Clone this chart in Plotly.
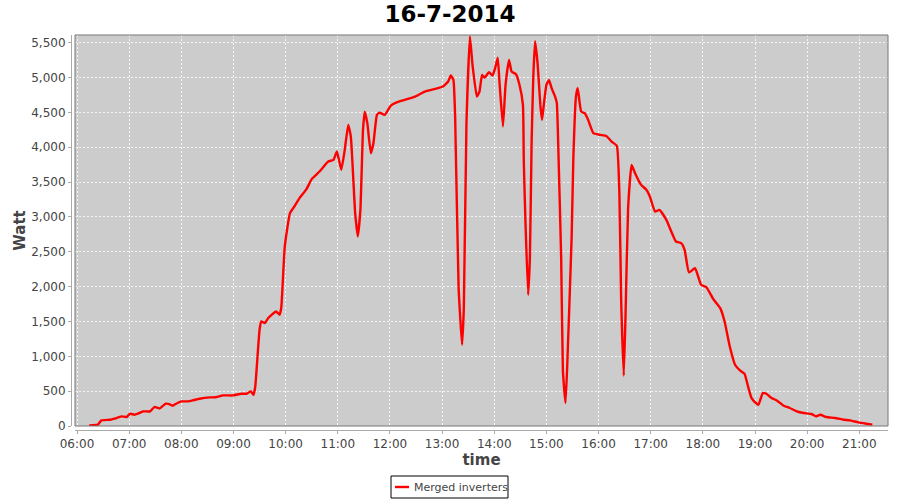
import plotly.graph_objects as go

# samples (time of day, watt)
times = [
    "06:14", "06:24", "06:28", "06:38", "06:43", "06:51", "06:57", "07:01", "07:06", "07:10",
    "07:16", "07:24", "07:29", "07:35", "07:42", "07:46", "07:50", "07:54", "08:00", "08:08",
    "08:13", "08:21", "08:33", "08:40", "08:48", "08:59", "09:09", "09:15", "09:20", "09:23",
    "09:25", "09:30", "09:32", "09:36", "09:40", "09:49", "09:53", "09:55", "09:59", "10:05",
    "10:10", "10:16", "10:24", "10:30", "10:39", "10:49", "10:55", "10:59", "11:04", "11:08",
    "11:12", "11:15", "11:20", "11:23", "11:26", "11:29", "11:31", "11:34", "11:38", "11:41",
    "11:45", "11:48", "11:54", "12:01", "12:07", "12:17", "12:29", "12:40", "12:52", "13:01",
    "13:07", "13:10", "13:13", "13:15", "13:19", "13:23", "13:25", "13:28", "13:32", "13:35",
    "13:40", "13:43", "13:46", "13:49", "13:54", "13:58", "14:01", "14:04", "14:06", "14:10",
    "14:13", "14:17", "14:20", "14:25", "14:29", "14:33", "14:34", "14:36", "14:39", "14:41",
    "14:43", "14:45", "14:47", "14:50", "14:53", "14:55", "14:57", "15:00", "15:03", "15:06",
    "15:10", "15:12", "15:14", "15:17", "15:19", "15:22", "15:24", "15:29", "15:31", "15:34",
    "15:36", "15:40", "15:44", "15:48", "15:54", "16:02", "16:09", "16:15", "16:21", "16:24",
    "16:26", "16:29", "16:31", "16:34", "16:38", "16:42", "16:49", "16:55", "16:59", "17:05",
    "17:10", "17:18", "17:29", "17:35", "17:39", "17:44", "17:51", "17:58", "18:04", "18:12",
    "18:20", "18:25", "18:31", "18:37", "18:43", "18:48", "18:52", "18:56", "19:02", "19:04",
    "19:09", "19:13", "19:19", "19:25", "19:33", "19:40", "19:48", "19:56", "20:05", "20:10",
    "20:15", "20:22", "20:32", "20:42", "20:49", "20:59", "21:08", "21:15",
]
watt = [
    9, 19, 80, 90, 105, 138, 129, 176, 162, 176,
    210, 210, 272, 252, 320, 315, 291, 320, 353, 353,
    367, 391, 410, 413, 439, 439, 463, 463, 496, 449,
    559, 1381, 1500, 1477, 1549, 1643, 1596, 1700, 2575, 3054,
    3149, 3270, 3399, 3542, 3651, 3794, 3819, 3938, 3675, 3962,
    4321, 4153, 3054, 2719, 3101, 4249, 4511, 4345, 3915, 4058,
    4464, 4497, 4464, 4598, 4640, 4679, 4727, 4798, 4837, 4870,
    4942, 5030, 4966, 4440, 1979, 1166, 1692, 4321, 5590, 5181,
    4727, 4798, 5038, 4999, 5076, 5028, 5134, 5286, 4942, 4297,
    4895, 5253, 5085, 5048, 4895, 4607, 3794, 2887, 1883, 2409,
    4081, 5038, 5520, 5181, 4607, 4393, 4607, 4895, 4966, 4847,
    4727, 4632, 3843, 2409, 783, 330, 879, 2696, 3843, 4727,
    4847, 4511, 4488, 4393, 4202, 4177, 4160, 4081, 4020, 3317,
    1811, 721, 1572, 3126, 3747, 3628, 3460, 3389, 3293, 3077,
    3101, 2958, 2647, 2624, 2528, 2203, 2266, 2026, 1993, 1821,
    1692, 1500, 1141, 879, 795, 748, 568, 401, 320, 305,
    473, 463, 401, 367, 291, 258, 210, 186, 172, 138,
    162, 129, 115, 90, 80, 52, 33, 19,
]
series_name = "Merged inverters"

day = "2014-07-16 "
x = [day + t for t in times]

GREY = "#444444"
RED = "#FF0000"
L, R, T, B = 71, 12, 35, 70
W, H = 900, 500
PW, PH = W - L - R, H - T - B
gap = 4
xdom0 = gap / PW
ydom0 = gap / PH


def px(xp):
    return (xp - L) / PW


def py(yp):
    return (H - B - yp) / PH


fig = go.Figure(
    go.Scatter(
        x=x,
        y=watt,
        mode="lines",
        name=series_name,
        line=dict(color=RED, width=2.4, shape="spline", smoothing=0.4),
        showlegend=False,
    )
)

axis_common = dict(
    anchor="free",
    position=0,
    automargin=False,
    showgrid=True,
    gridcolor="#F4F4F4",
    griddash="2px,2px",
    gridwidth=1,
    showline=True,
    linecolor="#AAAAAA",
    ticks="outside",
    ticklen=3,
    tickcolor="#AAAAAA",
    tickfont=dict(size=12, color=GREY),
    zeroline=False,
)

fig.update_layout(
    width=W,
    height=H,
    margin=dict(l=L, r=R, t=T, b=B),
    paper_bgcolor="white",
    plot_bgcolor="#CCCCCC",
    font=dict(family="DejaVu Sans", size=12, color=GREY),
    title=dict(
        text="<b>16-7-2014</b>",
        x=0.5,
        xanchor="center",
        y=1 - 14 / H,
        yanchor="middle",
        font=dict(family="DejaVu Sans", size=23, color="black"),
    ),
    showlegend=False,
    xaxis=dict(
        axis_common,
        domain=[xdom0, 1],
        type="date",
        range=[day + "05:57:40", day + "21:33:00"],
        dtick=3600000,
        tick0=day + "06:00",
        tickformat="%H:%M",
        title=dict(text="<b>time</b>", font=dict(size=15, color=GREY), standoff=4),
    ),
    yaxis=dict(
        axis_common,
        domain=[ydom0, 1],
        range=[0, 5610],
        dtick=500,
        tickformat=",d",
        title=dict(text="<b>Watt</b>", font=dict(size=15, color=GREY), standoff=0),
    ),
)

# plot border
fig.add_shape(
    type="rect", xref="paper", yref="paper",
    x0=xdom0, x1=1, y0=ydom0, y1=1,
    line=dict(color="#777777", width=1), layer="above",
)

# legend box drawn by hand so it does not push the margins
fig.add_shape(
    type="rect", xref="paper", yref="paper",
    x0=px(391), x1=px(508), y0=py(498), y1=py(476),
    line=dict(color="black", width=1), fillcolor="white",
)
fig.add_shape(
    type="line", xref="paper", yref="paper",
    x0=px(395), x1=px(409), y0=py(487), y1=py(487),
    line=dict(color=RED, width=2.4),
)
fig.add_annotation(
    xref="paper", yref="paper",
    x=px(412), y=py(487.5), xanchor="left", yanchor="middle",
    text=series_name, showarrow=False,
    font=dict(family="DejaVu Sans", size=11, color=GREY),
)

# drop the browser's default body margin so the figure sits at 0,0
fig.write_html(
    "out.html",
    config={"displayModeBar": False},
    post_script="document.body.style.margin='0';",
)
